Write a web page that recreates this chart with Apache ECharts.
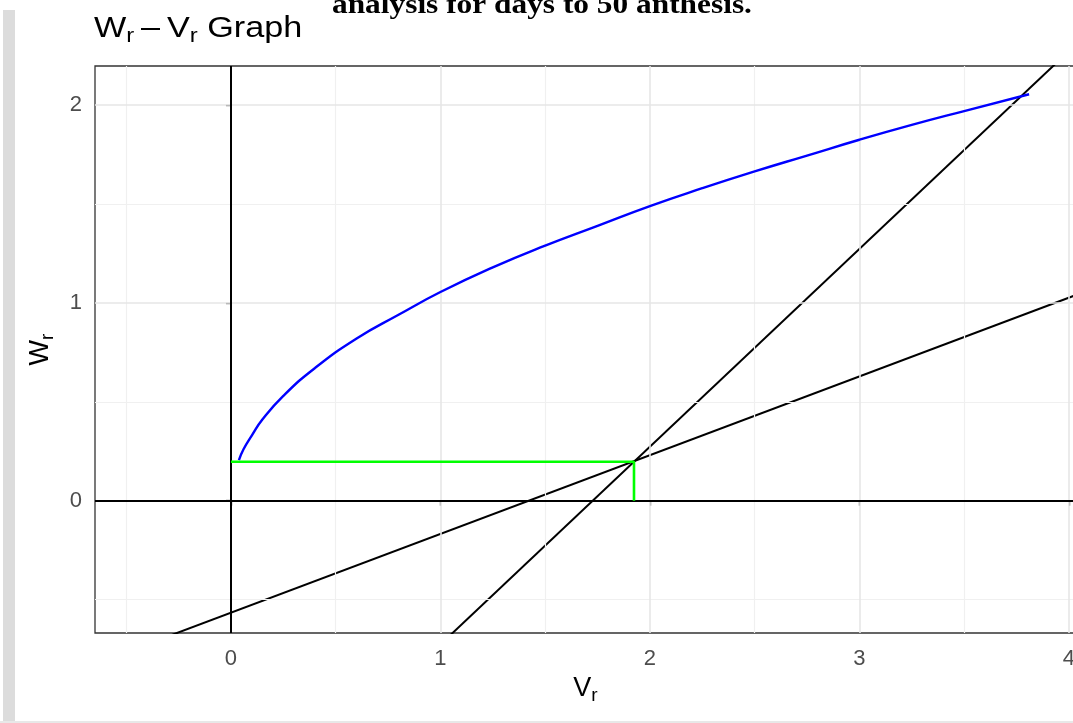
<!DOCTYPE html>
<html><head><meta charset="utf-8">
<script src="https://cdn.jsdelivr.net/npm/echarts@6/dist/echarts.min.js"></script>
<style>html,body{margin:0;padding:0;background:#fff;overflow:hidden}#c{width:1100px;height:723px}</style>
</head><body><div id="c"></div>
<script>
// Wr-Vr limiting curve
const curveV = [0.038, 0.06, 0.1, 0.15, 0.25, 0.4, 0.6, 0.8, 1.0, 1.25, 1.5, 1.75, 2.0, 2.25, 2.5, 2.75, 3.0, 3.25, 3.5, 3.81];
const curveW = [0.205, 0.26, 0.33, 0.41, 0.53, 0.67, 0.82, 0.94, 1.055, 1.18, 1.29, 1.39, 1.49, 1.58, 1.665, 1.745, 1.825, 1.90, 1.97, 2.055];
// unit-slope line through the mean point
const slopeV = [0.9, 4.2];
const slopeW = [-0.827, 2.473];
// regression line
const regV = [-0.7, 4.2];
const regW = [-0.845, 1.106];
// mean point guide (green)
const meanV = [0, 1.924, 1.924];
const meanW = [0.197, 0.197, 0];
// ticks and grid
const xTicks = [0, 1, 2, 3, 4];
const yTicks = [0, 1, 2];
const xMinor = [-0.5, 0.5, 1.5, 2.5, 3.5];
const yMinor = [-0.5, 0.5, 1.5];
const xRange = [-0.649, 4.034];
const yRange = [-0.669, 2.198];

const FONT = 'Liberation Sans, Arial, sans-serif';
const zip = (a, b) => a.map((v, i) => [v, b[i]]);

const chart = echarts.init(document.getElementById('c'), null, {renderer: 'canvas'});
const gridLine = (color, width) => ({color: color, width: width, type: 'solid'});
const subRich = (m, s, pad) => ({
  m: {fontSize: m, fontFamily: FONT, color: '#000', fontWeight: 'normal'},
  s: {fontSize: s, fontFamily: FONT, color: '#000', fontWeight: 'normal', padding: [pad, 0, 0, 0]}
});

chart.setOption({
  animation: false,
  backgroundColor: '#fff',
  graphic: [
    {type: 'rect', shape: {x: 3, y: 10, width: 12, height: 711}, style: {fill: '#dcdcdc'}, silent: true},
    {type: 'rect', shape: {x: 0, y: 721, width: 1100, height: 2}, style: {fill: '#e8e8e8'}, silent: true},
    {type: 'text', x: 332, y: 20, scaleX: 1.12, silent: true,
      style: {text: 'analysis for days to 50 anthesis.', font: 'bold 28px "Liberation Serif", "Times New Roman", serif', fill: '#000', verticalAlign: 'bottom'}},
    {type: 'text', x: 94, y: 10, scaleX: 1.14, silent: true,
      style: {text: '{m|W}{s|r}{m|\u2009\u2013\u2009V}{s|r}{m| Graph}', rich: subRich(30, 21, 16), verticalAlign: 'top'}}
  ],
  grid: {left: 95, right: 24, top: 66, bottom: 90, show: true, borderColor: '#333', borderWidth: 1.3, backgroundColor: 'transparent'},
  xAxis: {
    type: 'value', min: xRange[0], max: xRange[1],
    axisLine: {show: false},
    axisTick: {show: true, length: 5, lineStyle: {color: '#333', width: 1.3}, customValues: xTicks},
    axisLabel: {customValues: xTicks, color: '#4d4d4d', fontSize: 22, fontFamily: FONT, margin: 15},
    splitLine: {show: false},
    name: '{m|V}{s|r}', nameLocation: 'middle', nameGap: 34,
    nameTextStyle: {rich: subRich(27, 19, 14)}
  },
  yAxis: {
    type: 'value', min: yRange[0], max: yRange[1],
    axisLine: {show: false},
    axisTick: {show: true, length: 5, lineStyle: {color: '#333', width: 1.3}, customValues: yTicks},
    axisLabel: {customValues: yTicks, color: '#4d4d4d', fontSize: 22, fontFamily: FONT, margin: 13},
    splitLine: {show: false},
    name: '{m|W}{s|r}', nameLocation: 'middle', nameGap: 38, nameRotate: 90,
    nameTextStyle: {rich: subRich(27, 19, 14)}
  },
  series: [
    {type: 'line', data: [], z: 1, silent: true,
      markLine: {silent: true, symbol: ['none', 'none'], label: {show: false}, animation: false,
        data: [
          ...xMinor.map(v => ({xAxis: v, lineStyle: gridLine('#f0f0f0', 1.2)})),
          ...yMinor.map(v => ({yAxis: v, lineStyle: gridLine('#f0f0f0', 1.2)})),
          ...xTicks.map(v => ({xAxis: v, lineStyle: gridLine('#e6e6e6', 1.6)})),
          ...yTicks.map(v => ({yAxis: v, lineStyle: gridLine('#e6e6e6', 1.6)}))
        ]}},
    {type: 'line', data: [], z: 3, silent: true,
      markLine: {silent: true, symbol: ['none', 'none'], label: {show: false}, animation: false,
        lineStyle: {color: '#000', width: 2, type: 'solid'},
        data: [{xAxis: 0}, {yAxis: 0}]}},
    {type: 'line', data: zip(slopeV, slopeW), showSymbol: false, z: 4, lineStyle: {color: '#000', width: 2}, clip: true},
    {type: 'line', data: zip(regV, regW), showSymbol: false, z: 4, lineStyle: {color: '#000', width: 2}, clip: true},
    {type: 'line', data: zip(curveV, curveW), showSymbol: false, smooth: true, z: 5, lineStyle: {color: '#0000ff', width: 2.4}, clip: true},
    {type: 'line', data: zip(meanV, meanW), showSymbol: false, z: 5, lineStyle: {color: '#00ff00', width: 2.6}, clip: true}
  ]
});
</script></body></html>
